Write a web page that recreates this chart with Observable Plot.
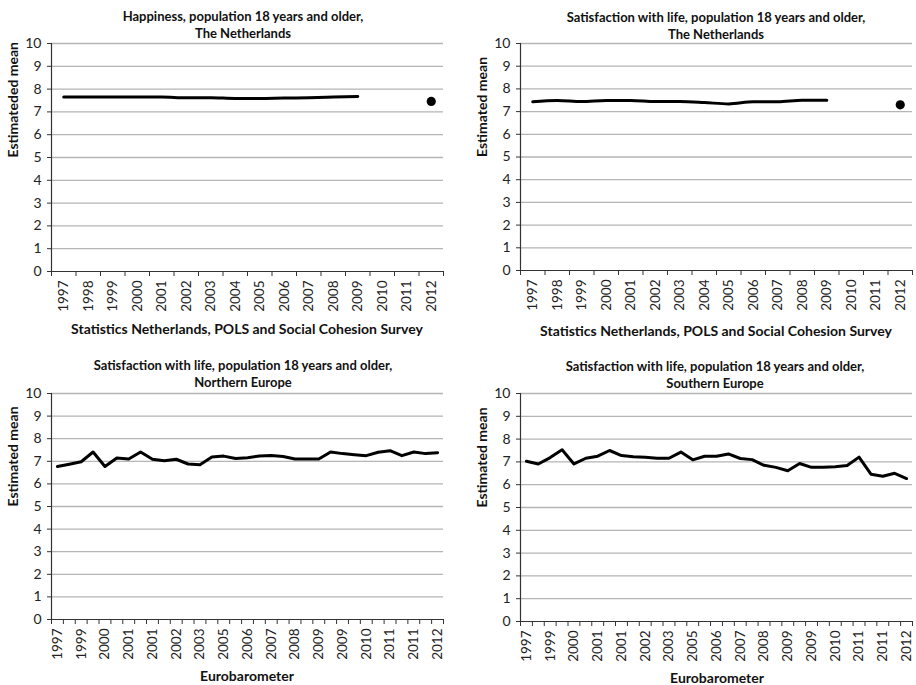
<!DOCTYPE html>
<html>
<head>
<meta charset="utf-8">
<script src="https://cdn.jsdelivr.net/npm/d3@7"></script>
<script src="https://cdn.jsdelivr.net/npm/@observablehq/plot@0.6"></script>
<style>
  html, body { margin: 0; padding: 0; background: #fff; }
  #root { position: relative; width: 916px; height: 685px; font-family: Lato, "Open Sans", sans-serif; color: #111; }
  .panel { position: absolute; }
  .title { position: absolute; width: 440px; text-align: center; font-weight: bold; font-size: 13px; line-height: 16.5px; color: #111; }
  .caption { position: absolute; width: 440px; text-align: center; font-weight: bold; font-size: 14px; line-height: 16px; color: #111; }
</style>
</head>
<body>
<div id="root"></div>
<script>
// ---- Data ----
const nlYears = ["1997","1998","1999","2000","2001","2002","2003","2004","2005","2006","2007","2008","2009","2010","2011","2012"];
// Statistics Netherlands, 1997–2009 series + separate 2012 value
const nlHappiness = [7.65, 7.65, 7.65, 7.65, 7.65, 7.62, 7.62, 7.59, 7.59, 7.61, 7.62, 7.65, 7.68];
const nlHappiness2012 = 7.46;
const nlSatisfaction = [7.43, 7.49, 7.44, 7.49, 7.49, 7.44, 7.44, 7.40, 7.34, 7.43, 7.43, 7.50, 7.50];
const nlSatisfaction2012 = 7.30;

// Eurobarometer: 33 survey waves, every second one labelled
const euLabels = ["1997","1999","2000","2001","2001","2002","2003","2005","2006","2007","2008","2009","2009","2010","2011","2011","2012"];
const northernEurope = [6.77, 6.87, 6.98, 7.41, 6.77, 7.15, 7.10, 7.41, 7.09, 7.02, 7.09, 6.88, 6.85, 7.19, 7.23, 7.12, 7.16, 7.23, 7.26, 7.21, 7.10, 7.10, 7.10, 7.41, 7.34, 7.29, 7.25, 7.40, 7.47, 7.25, 7.41, 7.34, 7.38];
const southernEurope = [7.03, 6.91, 7.19, 7.53, 6.91, 7.16, 7.25, 7.50, 7.28, 7.23, 7.20, 7.16, 7.16, 7.43, 7.09, 7.25, 7.25, 7.35, 7.15, 7.10, 6.85, 6.76, 6.61, 6.93, 6.76, 6.76, 6.79, 6.84, 7.21, 6.46, 6.37, 6.50, 6.27];

const yTicks = d3.range(0, 11);

function chart({n, tickLabel, labelIdx, series, point, smooth, yLabel, margins, height}) {
  const data = series.map((v, i) => ({i, v}));
  const boundaries = d3.range(n + 1).map(i => i - 0.5);
  const marks = [
    Plot.ruleY(d3.range(1, 11), {stroke: "#b5b5b5", strokeWidth: 1.3}),
    Plot.axisY(yTicks, {tickSize: 4, tickPadding: 6, fontSize: 14, label: null, stroke: "#333", fill: "#222"}),
    Plot.axisX(boundaries, {tickSize: 5, tickFormat: () => "", label: null, stroke: "#333"}),
    Plot.axisX(labelIdx, {tickSize: 0, tickRotate: -90, tickPadding: 9, fontSize: 13.5, tickFormat: tickLabel, label: null, fill: "#222"}),
    Plot.ruleY([0], {stroke: "#333", strokeWidth: 1.2}),
    Plot.ruleX([-0.5], {stroke: "#333", strokeWidth: 1.2}),
    Plot.line(data, {x: "i", y: "v", stroke: "#000", strokeWidth: 3, curve: smooth ? "monotone-x" : "linear", strokeLinejoin: "round"}),
    Plot.text([yLabel], {frameAnchor: "left", rotate: -90, dx: -38, fontWeight: "bold", fontSize: 14, fill: "#111"})
  ];
  if (point) marks.push(Plot.dot([point], {x: "i", y: "v", r: 4.6, fill: "#000", stroke: "none"}));
  return Plot.plot({
    width: 458,
    height,
    ...margins,
    style: {fontFamily: "Lato, 'Open Sans', sans-serif", background: "transparent", overflow: "visible"},
    x: {type: "linear", domain: [-0.5, n - 0.5], axis: null},
    y: {domain: [0, 10], axis: null},
    marks
  });
}

const root = document.getElementById("root");
function place(el, left, top) {
  const d = document.createElement("div");
  d.className = "panel";
  d.style.left = left + "px";
  d.style.top = top + "px";
  d.appendChild(el);
  root.appendChild(d);
}
function text(cls, html, cx, top) {
  const d = document.createElement("div");
  d.className = cls;
  d.innerHTML = html;
  d.style.left = (cx - 220) + "px";
  d.style.top = top + "px";
  root.appendChild(d);
}

const nlIdx = d3.range(nlYears.length);
const euIdx = d3.range(0, 33, 2);

// Top-left
place(chart({
  n: 16, tickLabel: i => nlYears[i], labelIdx: nlIdx, series: nlHappiness,
  point: {i: 15, v: nlHappiness2012}, smooth: true, yLabel: "Estimateded mean",
  margins: {marginLeft: 51, marginRight: 15, marginTop: 43, marginBottom: 74}, height: 345
}), 0, 0);
// Top-right
place(chart({
  n: 16, tickLabel: i => nlYears[i], labelIdx: nlIdx, series: nlSatisfaction,
  point: {i: 15, v: nlSatisfaction2012}, smooth: true, yLabel: "Estimated mean",
  margins: {marginLeft: 62, marginRight: 4, marginTop: 43, marginBottom: 75}, height: 345
}), 458, 0);
// Bottom-left
place(chart({
  n: 33, tickLabel: i => euLabels[i / 2], labelIdx: euIdx, series: northernEurope,
  point: null, smooth: false, yLabel: "Estimated mean",
  margins: {marginLeft: 51, marginRight: 15, marginTop: 48, marginBottom: 66}, height: 340
}), 0, 345);
// Bottom-right
place(chart({
  n: 33, tickLabel: i => euLabels[i / 2], labelIdx: euIdx, series: southernEurope,
  point: null, smooth: false, yLabel: "Estimated mean",
  margins: {marginLeft: 62, marginRight: 4, marginTop: 48, marginBottom: 64}, height: 340
}), 458, 345);

text("title", "Happiness, population 18 years and older,<br>The Netherlands", 243, 8);
text("title", "Satisfaction with life, population 18 years and older,<br>The Netherlands", 716, 9);
text("title", "Satisfaction with life, population 18 years and older,<br>Northern Europe", 243, 357);
text("title", "Satisfaction with life, population 18 years and older,<br>Southern Europe", 715, 358);
text("caption", "Statistics Netherlands, POLS and Social Cohesion Survey", 247, 321);
text("caption", "Statistics Netherlands, POLS and Social Cohesion Survey", 716, 323);
text("caption", "Eurobarometer", 247, 668);
text("caption", "Eurobarometer", 717, 670);
</script>
</body>
</html>
